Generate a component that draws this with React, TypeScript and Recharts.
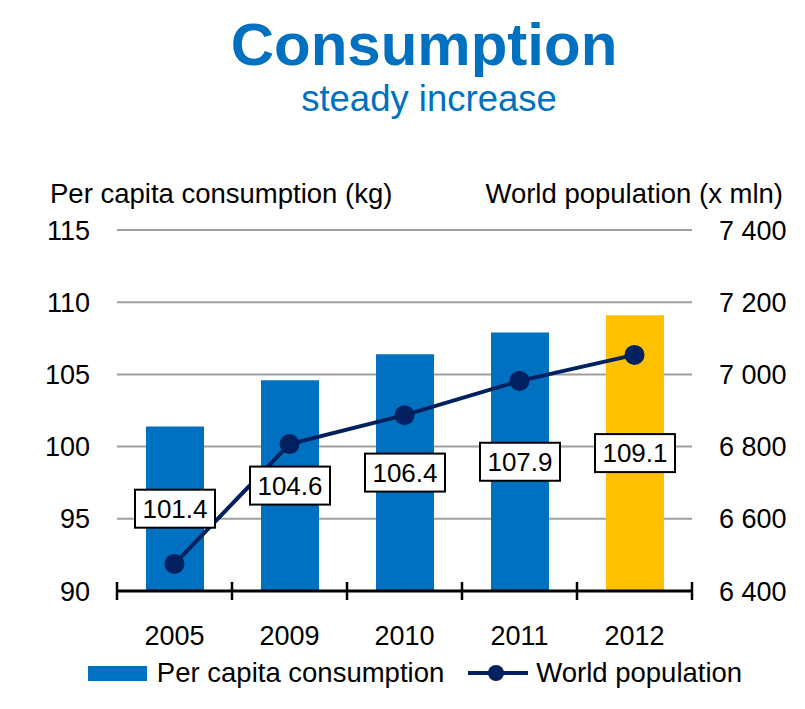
import React from "react";
import {
  ComposedChart,
  Bar,
  Line,
  XAxis,
  YAxis,
  CartesianGrid,
  Cell,
  LabelList,
  Legend,
} from "recharts";

const years = ["2005", "2009", "2010", "2011", "2012"];
const perCapita = [101.4, 104.6, 106.4, 107.9, 109.1];
const population = [6475, 6807, 6887, 6982, 7054];
const barColors = ["#0070C0", "#0070C0", "#0070C0", "#0070C0", "#FFC000"];
const leftTicks = [90, 95, 100, 105, 110, 115];
const rightTicks = [6400, 6600, 6800, 7000, 7200, 7400];

const data = years.map((y, i) => ({
  year: y,
  perCapita: perCapita[i],
  population: population[i],
}));

const FONT = "'Liberation Sans', Arial, Helvetica, sans-serif";
const BLUE = "#0070C0";
const NAVY = "#002060";
const X_TICK_MARGIN = 35;

const XTick = (props: any) => {
  const { x, y, payload, index, visibleTicksCount } = props;
  const half =
    typeof payload?.offset === "number" && payload.offset > 0 ? payload.offset : 57.5;
  const axisY = y - X_TICK_MARGIN;
  const isLast = index === (visibleTicksCount ?? years.length) - 1;
  return (
    <g>
      <line x1={x - half} x2={x - half} y1={axisY - 9} y2={axisY + 9} stroke="#000" strokeWidth={2.5} />
      {isLast && (
        <line x1={x + half} x2={x + half} y1={axisY - 9} y2={axisY + 9} stroke="#000" strokeWidth={2.5} />
      )}
      <text x={x} y={y} dy="0.71em" textAnchor="middle" fill="#000" fontSize={27} fontFamily={FONT}>
        {payload.value}
      </text>
    </g>
  );
};

const ValueBox = (props: any) => {
  const { x, y, width, height, value } = props;
  const cx = Number(x) + Number(width) / 2;
  const cy = Number(y) + Number(height) / 2;
  const w = 80;
  const h = 38;
  return (
    <g>
      <rect x={cx - w / 2} y={cy - h / 2} width={w} height={h} fill="#fff" stroke="#000" strokeWidth={2} />
      <text x={cx} y={cy} dy="0.355em" textAnchor="middle" fill="#000" fontSize={26} fontFamily={FONT}>
        {Number(value).toFixed(1)}
      </text>
    </g>
  );
};

const renderLegend = () => (
  <div
    style={{
      display: "flex",
      justifyContent: "center",
      alignItems: "center",
      height: 36,
      paddingLeft: 25,
      fontFamily: FONT,
      fontSize: 27.5,
      color: "#000",
      whiteSpace: "nowrap",
    }}
  >
    <svg width={59} height={15} style={{ marginRight: 10 }}>
      <rect x={0} y={0} width={59} height={15} fill={BLUE} />
    </svg>
    <span>Per capita consumption</span>
    <svg width={60} height={20} style={{ marginLeft: 24, marginRight: 8 }}>
      <line x1={0} x2={60} y1={10} y2={10} stroke={NAVY} strokeWidth={4} />
      <circle cx={28} cy={10} r={8} fill={NAVY} />
    </svg>
    <span>World population</span>
  </div>
);

export default function App() {
  return (
    <div style={{ position: "absolute", left: 0, top: 0, width: 805, height: 709, background: "#fff" }}>
      <ComposedChart
        width={805}
        height={709}
        data={data}
        margin={{ top: 230, right: 13, bottom: 78, left: 37 }}
      >
        <CartesianGrid yAxisId="left" horizontal vertical={false} stroke="#a0a0a0" strokeWidth={2} />
        <XAxis
          xAxisId="main"
          dataKey="year"
          interval={0}
          height={40}
          tickLine={false}
          tickSize={0}
          tickMargin={X_TICK_MARGIN}
          axisLine={{ stroke: "#000", strokeWidth: 3 }}
          tick={<XTick />}
        />
        <XAxis xAxisId="labels" dataKey="year" orientation="top" hide />
        <YAxis
          yAxisId="left"
          orientation="left"
          width={80}
          domain={[90, 115]}
          ticks={leftTicks}
          allowDataOverflow
          axisLine={false}
          tickLine={false}
          tickSize={0}
          tickMargin={27}
          tick={{ fill: "#000", fontSize: 27, fontFamily: FONT }}
        />
        <YAxis
          yAxisId="right"
          orientation="right"
          width={100}
          domain={[6400, 7400]}
          ticks={rightTicks}
          allowDataOverflow
          axisLine={false}
          tickLine={false}
          tickSize={0}
          tickMargin={27}
          tickFormatter={(v: number) => {
            const s = String(v);
            return s.slice(0, 1) + " " + s.slice(1);
          }}
          tick={{ fill: "#000", fontSize: 27, fontFamily: FONT, textAnchor: "start" }}
        />
        <Bar
          xAxisId="main"
          yAxisId="left"
          dataKey="perCapita"
          barSize={58}
          isAnimationActive={false}
        >
          {data.map((d, i) => (
            <Cell key={d.year} fill={barColors[i]} />
          ))}
        </Bar>
        <Line
          xAxisId="main"
          yAxisId="right"
          dataKey="population"
          stroke={NAVY}
          strokeWidth={4}
          dot={{ r: 10, fill: NAVY, stroke: NAVY, strokeWidth: 0 }}
          activeDot={false}
          isAnimationActive={false}
        />
        <Bar
          xAxisId="labels"
          yAxisId="left"
          dataKey="perCapita"
          barSize={58}
          fill="none"
          fillOpacity={0}
          isAnimationActive={false}
        >
          <LabelList dataKey="perCapita" position="center" content={<ValueBox />} />
        </Bar>
        <Legend
          layout="horizontal"
          verticalAlign="middle"
          align="center"
          wrapperStyle={{ top: 655, left: 0, width: 805 }}
          content={renderLegend}
        />
      </ComposedChart>
      <svg
        width={805}
        height={709}
        style={{ position: "absolute", left: 0, top: 0, pointerEvents: "none" }}
      >
        <text x={424} y={65} textAnchor="middle" fill={BLUE} fontSize={60} fontWeight="bold" fontFamily={FONT}>
          Consumption
        </text>
        <text x={429} y={111} textAnchor="middle" fill={BLUE} fontSize={36.5} fontFamily={FONT}>
          steady increase
        </text>
        <text x={50} y={203} textAnchor="start" fill="#000" fontSize={27.5} fontFamily={FONT}>
          Per capita consumption (kg)
        </text>
        <text x={783} y={203} textAnchor="end" fill="#000" fontSize={27.5} fontFamily={FONT}>
          World population (x mln)
        </text>
      </svg>
    </div>
  );
}
